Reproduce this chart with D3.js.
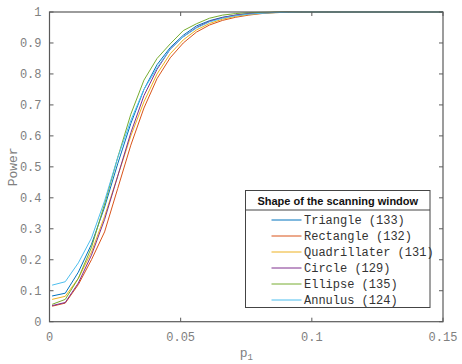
<!DOCTYPE html>
<html><head><meta charset="utf-8">
<script src="https://cdn.jsdelivr.net/npm/d3@7/dist/d3.min.js"></script>
<style>body{margin:0;background:#fff}svg{display:block}
.mono{font-family:"Liberation Mono","DejaVu Sans Mono","Courier New",monospace}
.sans{font-family:"Liberation Sans",Arial,Helvetica,sans-serif}
</style>
</head><body>
<script>
const xValues = [0.001,0.006,0.011,0.016,0.021,0.026,0.031,0.036,0.041,0.046,0.051,0.056,0.061,0.066,0.071,0.076,0.081,0.086,0.091,0.096,0.101,0.106,0.111,0.116,0.121,0.126,0.131,0.136,0.141,0.146,0.15];
const seriesNames = ["Triangle (133)","Rectangle (132)","Quadrillater (131)","Circle (129)","Ellipse (135)","Annulus (124)"];
const colors = ["#0072BD","#D95319","#EDB120","#7E2F8E","#77AC30","#4DBEEE"];
const triangle    = [0.083,0.092,0.16,0.25,0.37,0.51,0.64,0.75,0.83,0.885,0.925,0.955,0.972,0.983,0.99,0.995,0.997,0.999,1,1,1,1,1,1,1,1,1,1,1,1,1];
const rectangle   = [0.05,0.06,0.12,0.20,0.29,0.43,0.57,0.69,0.785,0.852,0.90,0.935,0.958,0.973,0.983,0.99,0.995,0.998,0.999,1,1,1,1,1,1,1,1,1,1,1,1];
const quadrillater= [0.072,0.082,0.14,0.225,0.34,0.47,0.60,0.71,0.80,0.865,0.91,0.942,0.963,0.977,0.986,0.992,0.996,0.998,0.999,1,1,1,1,1,1,1,1,1,1,1,1];
const circle      = [0.052,0.062,0.125,0.215,0.33,0.47,0.61,0.73,0.815,0.88,0.92,0.95,0.97,0.982,0.99,0.995,0.997,0.999,1,1,1,1,1,1,1,1,1,1,1,1,1];
const ellipse     = [0.056,0.072,0.14,0.24,0.38,0.53,0.67,0.78,0.85,0.897,0.94,0.962,0.98,0.99,0.995,0.998,0.999,1,1,1,1,1,1,1,1,1,1,1,1,1,1];
const annulus     = [0.118,0.129,0.19,0.27,0.39,0.53,0.65,0.75,0.82,0.88,0.92,0.948,0.968,0.98,0.988,0.993,0.996,0.998,0.999,1,1,1,1,1,1,1,1,1,1,1,1];
const seriesValues = [triangle,rectangle,quadrillater,circle,ellipse,annulus];
const xTicks = [0,0.05,0.1,0.15];
const xTickLabels = ["0","0.05","0.1","0.15"];
const yTicks = [0,0.1,0.2,0.3,0.4,0.5,0.6,0.7,0.8,0.9,1];
const yTickLabels = ["0","0.1","0.2","0.3","0.4","0.5","0.6","0.7","0.8","0.9","1"];
const legendTitle = "Shape of the scanning window";

const W=462,H=364;
const L=49.5,R=443,T=12,B=321.7;
const svg=d3.select("body").append("svg").attr("width",W).attr("height",H);
const x=d3.scaleLinear().domain([0,0.15]).range([L,R]);
const y=d3.scaleLinear().domain([0,1]).range([B,T]);
const axisCol="#5a5a5a", textCol="#808080";

const clip=svg.append("clipPath").attr("id","c").append("rect").attr("x",L).attr("y",T-1).attr("width",R-L).attr("height",B-T+1);
const g=svg.append("g").attr("clip-path","url(#c)");
const line=d3.line().x((d,i)=>x(xValues[i])).y(d=>y(d));
seriesValues.forEach((s,i)=>{
  g.append("path").datum(s).attr("d",line).attr("fill","none").attr("stroke",colors[i]).attr("stroke-width",1);
});

const ax=svg.append("g");
ax.append("rect").attr("x",L).attr("y",T).attr("width",R-L).attr("height",B-T).attr("fill","none").attr("stroke",axisCol).attr("stroke-width",1.2);
const tl=4;
xTicks.forEach((t,i)=>{
  ax.append("line").attr("x1",x(t)).attr("x2",x(t)).attr("y1",B).attr("y2",B-tl).attr("stroke",axisCol);
  ax.append("line").attr("x1",x(t)).attr("x2",x(t)).attr("y1",T).attr("y2",T+tl).attr("stroke",axisCol);
  ax.append("text").attr("class","mono").attr("x",x(t)).attr("y",B+19).attr("text-anchor","middle").attr("font-size",12).attr("fill",textCol).text(xTickLabels[i]);
});
yTicks.forEach((t,i)=>{
  ax.append("line").attr("x1",L).attr("x2",L+tl).attr("y1",y(t)).attr("y2",y(t)).attr("stroke",axisCol);
  ax.append("line").attr("x1",R).attr("x2",R-tl).attr("y1",y(t)).attr("y2",y(t)).attr("stroke",axisCol);
  ax.append("text").attr("class","mono").attr("x",L-8).attr("y",y(t)+4).attr("text-anchor","end").attr("font-size",12).attr("fill",textCol).text(yTickLabels[i]);
});
const xl=svg.append("text").attr("class","mono").attr("x",(L+R)/2).attr("y",357).attr("text-anchor","middle").attr("font-size",13).attr("fill",textCol);
xl.append("tspan").text("p");
xl.append("tspan").attr("dy",3).attr("font-size",9).text("1");
svg.append("text").attr("class","mono").attr("transform",`translate(17,${(T+B)/2}) rotate(-90)`).attr("text-anchor","middle").attr("font-size",13).attr("fill",textCol).text("Power");

const lx=245.5,ly=190.5,lw=184.5,lh=117;
const lg=svg.append("g");
lg.append("rect").attr("x",lx).attr("y",ly).attr("width",lw).attr("height",lh).attr("fill","#fff").attr("stroke","#444");
lg.append("line").attr("x1",lx).attr("x2",lx+lw).attr("y1",210).attr("y2",210).attr("stroke","#444");
lg.append("text").attr("class","sans").attr("x",lx+lw/2).attr("y",205).attr("text-anchor","middle").attr("font-weight","bold").attr("font-size",11).attr("fill","#111").text(legendTitle);
seriesNames.forEach((n,i)=>{
  const yy=220+i*16;
  lg.append("line").attr("x1",271.5).attr("x2",301.5).attr("y1",yy).attr("y2",yy).attr("stroke",colors[i]).attr("stroke-width",1);
  lg.append("text").attr("class","mono").attr("x",304).attr("y",yy+4).attr("font-size",12).attr("fill","#333").text(n);
});
</script>
</body></html>
